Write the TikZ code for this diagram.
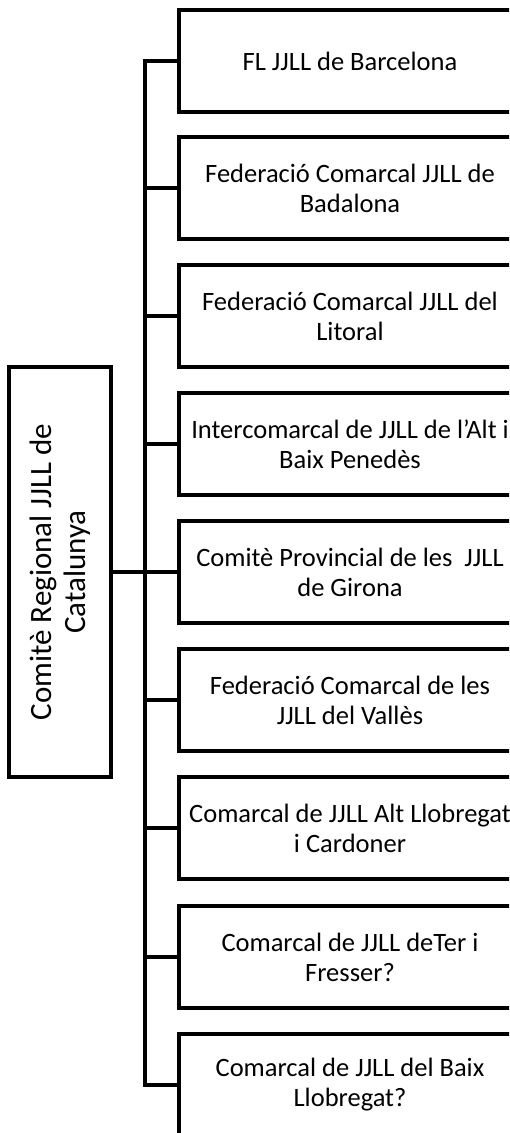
\documentclass[tikz,border=0pt]{standalone}
\usepackage{fontspec}
\setmainfont{Carlito}
\begin{document}
\begin{tikzpicture}[x=1pt,y=-1pt,
  line width=4pt,
  childbox/.style={draw, rectangle, minimum width=342pt, minimum height=102pt, align=center, font=\fontsize{26.5}{30}\selectfont, inner sep=0pt},
  rootbox/.style={draw, rectangle, rotate=90, minimum width=410pt, minimum height=102pt, align=center, font=\fontsize{31}{34}\selectfont, inner sep=0pt},
  conn/.style={line width=4pt, line join=miter}]
\useasboundingbox (0,0) rectangle (509,1133);
\clip (0,0) rectangle (509,1133);
\node[rootbox] (root) at (60,572) {Comitè Regional JJLL de\\Catalunya};
\node[childbox] (c1) at (350,61) {FL JJLL de Barcelona};
\node[childbox] (c2) at (350,188) {Federació Comarcal JJLL de\\Badalona};
\node[childbox] (c3) at (350,316) {Federació Comarcal JJLL del\\Litoral};
\node[childbox] (c4) at (350,444) {Intercomarcal de JJLL de l’Alt i\\Baix Penedès};
\node[childbox] (c5) at (350,572) {Comitè Provincial de les~ JJLL\\de Girona};
\node[childbox] (c6) at (350,700) {Federació Comarcal de les\\JJLL del Vallès};
\node[childbox] (c7) at (350,828) {Comarcal de JJLL Alt Llobregat\\i Cardoner};
\node[childbox] (c8) at (350,957) {Comarcal de JJLL deTer i\\Fresser?};
\node[childbox] (c9) at (350,1085) {Comarcal de JJLL del Baix\\Llobregat?};
\coordinate (bus) at (145,572);
\draw[conn] (c1.west) -- (c1.west -| bus) -- (c9.west -| bus) -- (c9.west);
\foreach \i in {2,...,8} {\draw[conn] (c\i.west) -- (c\i.west -| bus);}
\draw[conn] (root.south) -- (root.south -| bus);
\end{tikzpicture}
\end{document}
